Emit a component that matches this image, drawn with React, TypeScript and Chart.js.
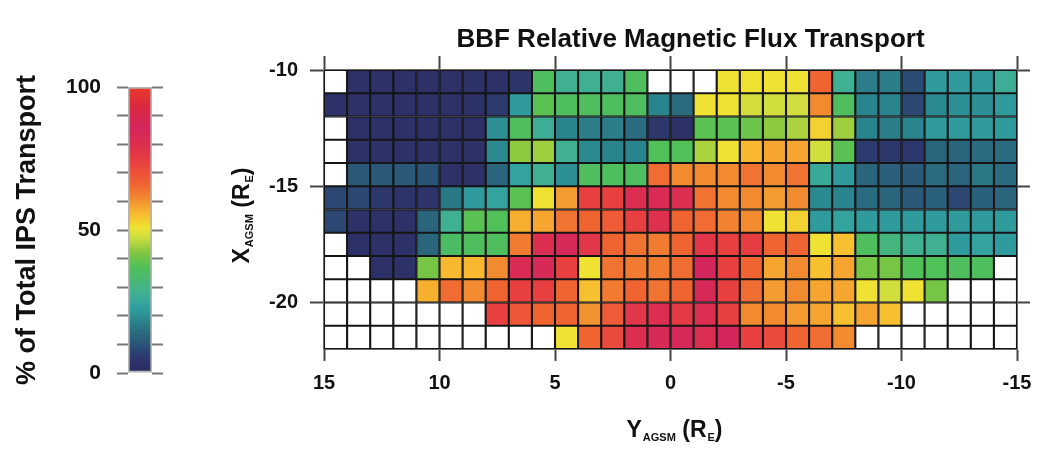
import React, { useEffect, useRef } from "react";
import { Chart, registerables } from "chart.js";
Chart.register(...registerables);

const FONT = "'Liberation Sans', Arial, Helvetica, sans-serif";

// ---------- data ----------
const mainTitle = "BBF Relative Magnetic Flux Transport";

// Y_AGSM bins (columns, left → right); each bin spans [start, start - 1]
const yBinStart = [15, 14, 13, 12, 11, 10, 9, 8, 7, 6, 5, 4, 3, 2, 1, 0, -1, -2, -3, -4, -5, -6, -7, -8, -9, -10, -11, -12, -13, -14];
// X_AGSM bins (rows, top → bottom); each bin spans [start - 1, start]
const xBinStart = [-10, -11, -12, -13, -14, -15, -16, -17, -18, -19, -20, -21];

// % of total IPS transport per cell (null = no data, drawn white)
const rowX10 = [null, 3, 3, 3, 3, 3, 3, 3, 4, 36, 28, 28, 28, 36, null, null, null, 51, 51, 51, 51, 66, 28, 17, 17, 9, 22, 22, 22, 27];
const rowX11 = [3, 3, 3, 3, 3, 3, 3, 6, 22, 38, 36, 36, 36, 36, 18, 14, 51, 51, 48, 48, 48, 61, 36, 18, 18, 8, 19, 20, 20, 22];
const rowX12 = [null, 3, 3, 3, 3, 3, 3, 20, 36, 27, 18, 17, 17, 14, 5, 3, 38, 38, 40, 43, 45, 53, 44, 18, 17, 18, 22, 22, 22, 22];
const rowX13 = [null, 3, 3, 3, 3, 3, 3, 19, 43, 44, 28, 19, 18, 18, 37, 37, 45, 51, 56, 58, 58, 48, 38, 6, 5, 5, 13, 13, 14, 14];
const rowX14 = [null, 11, 11, 11, 10, 3, 3, 13, 24, 28, 20, 36, 36, 36, 65, 61, 61, 61, 64, 61, 64, 26, 22, 13, 12, 11, 14, 13, 16, 14];
const rowX15 = [8, 8, 5, 4, 4, 16, 22, 24, 38, 51, 59, 74, 74, 80, 82, 80, 64, 61, 61, 59, 61, 19, 18, 14, 13, 11, 12, 8, 12, 13];
const rowX16 = [8, 3, 3, 3, 13, 28, 38, 37, 57, 58, 64, 66, 68, 74, 79, 66, 65, 62, 61, 51, 53, 22, 24, 22, 22, 22, 22, 22, 22, 22];
const rowX17 = [null, 3, 3, 3, 13, 35, 36, 36, 63, 80, 84, 77, 66, 64, 63, 66, 77, 74, 75, 66, 66, 51, 55, 36, 31, 28, 28, 22, 24, 22];
const rowX18 = [null, null, 3, 3, 41, 56, 56, 61, 82, 83, 74, 51, 64, 63, 63, 65, 86, 74, 66, 58, 61, 55, 58, 41, 41, 37, 37, 36, 36, null];
const rowX19 = [null, null, null, null, 57, 65, 61, 66, 74, 74, 66, 55, 63, 66, 64, 66, 84, 74, 65, 59, 61, 58, 58, 51, 48, 51, 41, null, null, null];
const rowX20 = [null, null, null, null, null, null, null, 74, 69, 66, 66, 60, 68, 77, 80, 76, 80, 74, 61, 61, 59, 58, 55, 58, 55, null, null, null, null, null];
const rowX21 = [null, null, null, null, null, null, null, null, null, null, 51, 66, 72, 80, 83, 84, 80, 86, 74, 72, 66, 65, 61, null, null, null, null, null, null, null];
const rows = [rowX10, rowX11, rowX12, rowX13, rowX14, rowX15, rowX16, rowX17, rowX18, rowX19, rowX20, rowX21];

// tick labels
const xTickValues = [15, 10, 5, 0, -5, -10, -15];
const yTickValues = [-10, -15, -20];
const cbTickValues = [0, 10, 20, 30, 40, 50, 60, 70, 80, 90, 100];
const cbLabelValues = [0, 50, 100];

// colour map (value → colour)
const cmapStops = [0, 6, 11, 15, 19, 23, 28, 33, 37, 42, 47, 51, 56, 61, 66, 74, 80, 86, 93, 100];
const cmapHex = ["#2b2860", "#2c3a6e", "#2a5a78", "#2a7082", "#2a8a90", "#30a0a0", "#40b092", "#48b870", "#50c058", "#80c640", "#c8dc40", "#f0e232", "#f8b830", "#f28a30", "#f06432", "#e84040", "#dc2e50", "#d4265c", "#dc2840", "#e83a2a"];

function hexToRgb(h: string) {
  return [parseInt(h.slice(1, 3), 16), parseInt(h.slice(3, 5), 16), parseInt(h.slice(5, 7), 16)];
}
function cmap(v: number | null) {
  if (v == null) return "#ffffff";
  for (let i = 0; i < cmapStops.length - 1; i++) {
    const a = cmapStops[i], b = cmapStops[i + 1];
    if (v <= b) {
      const t = (v - a) / (b - a);
      const c1 = hexToRgb(cmapHex[i]), c2 = hexToRgb(cmapHex[i + 1]);
      const c = c1.map((x, k) => Math.round(x + (c2[k] - x) * t));
      return `rgb(${c[0]},${c[1]},${c[2]})`;
    }
  }
  return cmapHex[cmapHex.length - 1];
}

// text with subscripts drawn on the canvas
type Part = [string, boolean];
const xTitleParts: Part[] = [["X", false], ["AGSM", true], [" (R", false], ["E", true], [")", false]];
const yTitleParts: Part[] = [["Y", false], ["AGSM", true], [" (R", false], ["E", true], [")", false]];

function drawSubText(ctx: CanvasRenderingContext2D, parts: Part[], x: number, y: number, rot: number) {
  const big = `bold 23px ${FONT}`;
  const small = `bold 11px ${FONT}`;
  let total = 0;
  const widths = parts.map(([t, sub]) => {
    ctx.font = sub ? small : big;
    const w = ctx.measureText(t).width + (sub ? 1 : 0);
    total += w;
    return w;
  });
  ctx.save();
  ctx.translate(x, y);
  ctx.rotate(rot);
  ctx.textAlign = "left";
  ctx.textBaseline = "alphabetic";
  let cx = -total / 2;
  parts.forEach(([t, sub], i) => {
    ctx.font = sub ? small : big;
    ctx.fillText(t, cx + (sub ? 1 : 0), sub ? 12 : 8);
    cx += widths[i];
  });
  ctx.restore();
}

const titlesPlugin = {
  id: "richTitles",
  afterDraw(chart: any) {
    const { ctx, chartArea: a } = chart;
    ctx.save();
    ctx.fillStyle = "#111";
    ctx.font = `bold 26px ${FONT}`;
    ctx.textAlign = "center";
    ctx.textBaseline = "middle";
    ctx.fillText(mainTitle, (a.left + a.right) / 2 + 20, 40);
    drawSubText(ctx, yTitleParts, (a.left + a.right) / 2 + 4, 429, 0);
    drawSubText(ctx, xTitleParts, 41, (a.top + a.bottom) / 2 + 6, -Math.PI / 2);
    ctx.restore();
  },
};

const tickFont = { family: FONT, size: 20, weight: "bold" as const };

export default function App() {
  const cbRef = useRef<HTMLCanvasElement>(null);
  const mainRef = useRef<HTMLCanvasElement>(null);

  useEffect(() => {
    // ---------- colour bar ----------
    const cb = new Chart(cbRef.current!, {
      type: "bar",
      data: {
        labels: [""],
        datasets: [
          {
            data: [[0, 100]] as any,
            backgroundColor: (ctx: any) => {
              const ch = ctx.chart;
              const ys = ch.scales.y;
              if (!ys || !ch.chartArea) return "#888";
              const g = ch.ctx.createLinearGradient(0, ys.getPixelForValue(0), 0, ys.getPixelForValue(100));
              cmapStops.forEach((s, i) => g.addColorStop(s / 100, cmapHex[i]));
              return g;
            },
            borderColor: "#b5b5b5",
            borderWidth: 2,
            borderSkipped: false,
            categoryPercentage: 1,
            barPercentage: 1,
          },
        ],
      },
      options: {
        responsive: false,
        animation: false,
        layout: { padding: { top: 87, bottom: 76, left: 0, right: 0 } },
        plugins: { legend: { display: false }, tooltip: { enabled: false } },
        scales: {
          x: { display: false },
          y: {
            position: "left",
            min: 0,
            max: 100,
            afterBuildTicks: (s: any) => {
              s.ticks = cbTickValues.map((v) => ({ value: v }));
            },
            afterFit: (s: any) => {
              s.width = 128;
            },
            grid: { drawOnChartArea: false, tickLength: 11, tickWidth: 2, tickColor: "#777" },
            border: { display: false },
            ticks: {
              autoSkip: false,
              padding: 16,
              color: "#111",
              font: { family: FONT, size: 21, weight: "bold" },
              callback: (v: any) => (cbLabelValues.includes(v) ? String(v) : ""),
            },
            title: {
              display: true,
              text: "% of Total IPS Transport",
              color: "#111",
              font: { family: FONT, size: 27, weight: "bold" },
              padding: { top: 11, bottom: 0 },
            },
          },
          y2: {
            position: "right",
            min: 0,
            max: 100,
            afterBuildTicks: (s: any) => {
              s.ticks = cbTickValues.map((v) => ({ value: v }));
            },
            afterFit: (s: any) => {
              s.width = 48;
            },
            grid: { drawOnChartArea: false, tickLength: 11, tickWidth: 2, tickColor: "#777" },
            border: { display: false },
            ticks: { display: false },
          },
        },
      } as any,
    });

    // ---------- heat map ----------
    const datasets = rows.map((vals, r) => ({
      type: "bar" as const,
      data: yBinStart.map((ys) => ({ x: ys - 0.5, y: [xBinStart[r] - 1, xBinStart[r]] })),
      backgroundColor: vals.map((v) => cmap(v)),
      borderColor: "#151515",
      borderWidth: 1.4,
      borderSkipped: false,
      grouped: false,
      categoryPercentage: 1,
      barPercentage: 1,
    }));

    const axisCommon = {
      type: "linear" as const,
      offset: false,
      border: { display: true, color: "#6a6a6a", width: 2 },
    };

    const main = new Chart(mainRef.current!, {
      type: "bar",
      data: { datasets: datasets as any },
      options: {
        responsive: false,
        animation: false,
        layout: { padding: 0 },
        plugins: { legend: { display: false }, tooltip: { enabled: false }, title: { display: false } },
        scales: {
          x: {
            ...axisCommon,
            position: "bottom",
            min: -15,
            max: 15,
            reverse: true,
            afterBuildTicks: (s: any) => {
              s.ticks = xTickValues.map((v) => ({ value: v }));
            },
            afterFit: (s: any) => {
              s.height = 100;
            },
            grid: { drawOnChartArea: false, offset: false, tickLength: 12, tickWidth: 2, tickColor: "#444" },
            ticks: { autoSkip: false, maxRotation: 0, padding: 10, color: "#111", font: tickFont, callback: (v: any) => String(v) },
          },
          x2: {
            ...axisCommon,
            position: "top",
            min: -15,
            max: 15,
            reverse: true,
            afterBuildTicks: (s: any) => {
              s.ticks = xTickValues.map((v) => ({ value: v }));
            },
            afterFit: (s: any) => {
              s.height = 70;
            },
            grid: { drawOnChartArea: false, offset: false, tickLength: 14, tickWidth: 2, tickColor: "#444" },
            ticks: { display: false },
          },
          y: {
            ...axisCommon,
            position: "left",
            min: -22,
            max: -10,
            afterBuildTicks: (s: any) => {
              s.ticks = yTickValues.map((v) => ({ value: v }));
            },
            afterFit: (s: any) => {
              s.width = 124;
            },
            grid: { drawOnChartArea: false, tickLength: 14, tickWidth: 2, tickColor: "#444" },
            ticks: { autoSkip: false, padding: 12, color: "#111", font: tickFont, callback: (v: any) => String(v) },
          },
          y2: {
            ...axisCommon,
            position: "right",
            min: -22,
            max: -10,
            afterBuildTicks: (s: any) => {
              s.ticks = yTickValues.map((v) => ({ value: v }));
            },
            afterFit: (s: any) => {
              s.width = 26;
            },
            grid: { drawOnChartArea: false, tickLength: 13, tickWidth: 2, tickColor: "#444" },
            ticks: { display: false },
          },
        },
      } as any,
      plugins: [titlesPlugin],
    });

    return () => {
      cb.destroy();
      main.destroy();
    };
  }, []);

  return (
    <div style={{ position: "fixed", left: 0, top: 0, width: 1043, height: 449, background: "#fff", overflow: "hidden" }}>
      <canvas ref={cbRef} width={200} height={449} style={{ position: "absolute", left: 0, top: 0, width: 200, height: 449 }} />
      <canvas ref={mainRef} width={843} height={449} style={{ position: "absolute", left: 200, top: 0, width: 843, height: 449 }} />
    </div>
  );
}
